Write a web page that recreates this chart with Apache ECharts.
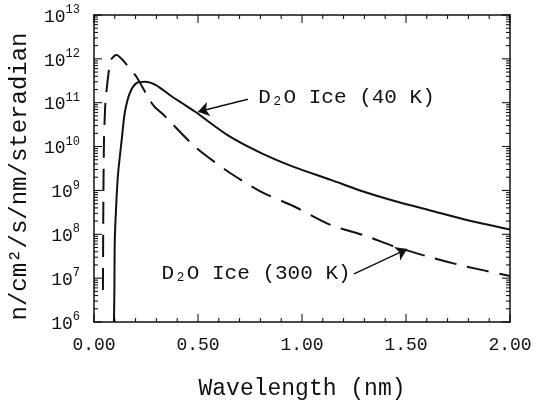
<!DOCTYPE html>
<html><head><meta charset="utf-8">
<script src="https://cdn.jsdelivr.net/npm/echarts@6/dist/echarts.min.js"></script>
<style>html,body{margin:0;padding:0;background:#fff}#c{width:537px;height:406px}</style>
</head><body><div id="c"></div>
<script>
// D2O ice, 40 K (solid)
const wl40   = [0.096, 0.098, 0.100, 0.108, 0.116, 0.133, 0.148, 0.172, 0.204, 0.244, 0.300, 0.364, 0.420, 0.485, 0.644, 0.804, 0.963, 1.139, 1.298, 1.458, 1.617, 1.777, 2.000];
const flux40 = [1.0e6, 5.4e6, 7.4e7, 6.0e8, 2.5e9, 1.4e10, 5.9e10, 1.66e11, 2.8e11, 3.0e11, 2.5e11, 1.5e11, 1.0e11, 6.3e10, 1.8e10, 7.1e9, 3.4e9, 1.74e9, 9.3e8, 5.5e8, 3.5e8, 2.2e8, 1.29e8];
// D2O ice, 300 K (dashed)
const wl300   = [0.043, 0.045, 0.048, 0.053, 0.057, 0.073, 0.080, 0.100, 0.109, 0.139, 0.172, 0.204, 0.268, 0.292, 0.325, 0.364, 0.485, 0.644, 0.804, 0.963, 1.139, 1.298, 1.458, 1.617, 1.777, 2.000];
const flux300 = [5.4e6, 6.0e8, 1.4e10, 6.8e10, 1.35e11, 6.2e11, 9.3e11, 1.2e12, 1.23e12, 9.3e11, 6.0e11, 3.9e11, 1.15e11, 8.0e10, 5.8e10, 3.8e10, 1.0e10, 2.7e9, 9.3e8, 4.3e8, 1.62e8, 9.5e7, 5.0e7, 3.0e7, 1.9e7, 1.12e7];
// axes
const xMin = 0, xMax = 2, xStep = 0.5;
const yMin = 1e6, yMax = 1e13;
const xMajorTicks = [0, 0.5, 1.0, 1.5, 2.0];
const xMinorTicks = [0.1, 0.2, 0.3, 0.4, 0.6, 0.7, 0.8, 0.9, 1.1, 1.2, 1.3, 1.4, 1.6, 1.7, 1.8, 1.9];
const yMajorTicks = [1e6, 1e7, 1e8, 1e9, 1e10, 1e11, 1e12, 1e13];
const yMinorMantissas = [2, 3, 4, 5, 6, 7, 8, 9];
// annotations
const label40 = 'D₂O Ice (40 K)';
const label300 = 'D₂O Ice (300 K)';
const arrow40 = [[0.74, 1.2e11], [0.50, 6.2e10]];
const text40 = [0.79, 1.35e11];
const arrow300 = [[1.25, 1.25e7], [1.505, 4.6e7]];
const text300 = [0.325, 1.3e7];

const FONT = 'Liberation Mono';
const black = '#111';
const MAJOR_LEN = 8, MINOR_LEN = 4;
const chart = echarts.init(document.getElementById('c'));

function pairs(xs, ys) { return xs.map((x, i) => [x, ys[i]]); }

// tick items: [x, y, side(0 bottom,1 top,2 left,3 right), length]
const tickItems = [];
xMajorTicks.forEach(v => { tickItems.push([v, yMin, 0, MAJOR_LEN], [v, yMax, 1, MAJOR_LEN]); });
xMinorTicks.forEach(v => { tickItems.push([v, yMin, 0, MINOR_LEN], [v, yMax, 1, MINOR_LEN]); });
yMajorTicks.forEach(v => { tickItems.push([xMin, v, 2, MAJOR_LEN], [xMax, v, 3, MAJOR_LEN]); });
yMajorTicks.slice(0, -1).forEach(d => yMinorMantissas.forEach(m => {
  tickItems.push([xMin, m * d, 2, MINOR_LEN], [xMax, m * d, 3, MINOR_LEN]);
}));

function renderTick(params, api) {
  const p = api.coord([api.value(0), api.value(1)]);
  const side = api.value(2), len = api.value(3);
  let x2 = p[0], y2 = p[1];
  if (side === 0) y2 -= len; else if (side === 1) y2 += len; else if (side === 2) x2 += len; else x2 -= len;
  return {type: 'line', shape: {x1: p[0], y1: p[1], x2: x2, y2: y2}, style: {stroke: '#000', lineWidth: 1}};
}

const axisLineStyle = {show: true, onZero: false, lineStyle: {color: black, width: 1.5}};

chart.setOption({
  backgroundColor: '#fff',
  animation: false,
  grid: {left: 92, right: 27, top: 15, bottom: 84},
  xAxis: [
    {
      type: 'value', min: xMin, max: xMax, interval: xStep, position: 'bottom',
      name: 'Wavelength (nm)', nameLocation: 'middle', nameGap: 55,
      nameTextStyle: {fontFamily: FONT, fontSize: 23, color: black},
      axisLine: axisLineStyle, axisTick: {show: false}, splitLine: {show: false},
      axisLabel: {margin: 14, fontFamily: FONT, fontSize: 18, color: black, formatter: v => v.toFixed(2)}
    },
    {
      type: 'value', min: xMin, max: xMax, interval: xStep, position: 'top',
      axisLine: axisLineStyle, axisTick: {show: false}, splitLine: {show: false}, axisLabel: {show: false}
    }
  ],
  yAxis: [
    {
      type: 'log', logBase: 10, min: yMin, max: yMax, interval: 1, position: 'left',
      name: 'n/cm²/s/nm/steradian', nameLocation: 'middle', nameGap: 62, nameRotate: 90,
      nameTextStyle: {fontFamily: FONT, fontSize: 24, color: black, padding: [0, 16, 0, 0]},
      axisLine: axisLineStyle, axisTick: {show: false}, splitLine: {show: false},
      axisLabel: {
        margin: 14, color: black,
        formatter: v => '{b|10}{e|' + Math.round(Math.log10(v)) + '}',
        rich: {
          b: {fontFamily: FONT, fontSize: 18, color: black, verticalAlign: 'bottom', lineHeight: 22},
          e: {fontFamily: FONT, fontSize: 12, color: black, verticalAlign: 'top', lineHeight: 22}
        }
      }
    },
    {
      type: 'log', logBase: 10, min: yMin, max: yMax, interval: 1, position: 'right',
      axisLine: axisLineStyle, axisTick: {show: false}, splitLine: {show: false}, axisLabel: {show: false}
    }
  ],
  series: [
    {
      name: 'ticks', type: 'custom', data: tickItems, renderItem: renderTick,
      xAxisIndex: 0, yAxisIndex: 0, encode: {x: 0, y: 1}, silent: true, z: 10, clip: false
    },
    {
      name: '40 K', type: 'line', data: pairs(wl40, flux40),
      xAxisIndex: 0, yAxisIndex: 0,
      showSymbol: false, smooth: 0.25,
      lineStyle: {color: black, width: 2},
      markLine: {
        silent: true, symbol: ['none', 'arrow'], symbolSize: 11,
        label: {show: false},
        lineStyle: {color: black, width: 1.5, type: 'solid'},
        data: [
          [{coord: arrow40[0]}, {coord: arrow40[1]}],
          [{coord: arrow300[0]}, {coord: arrow300[1]}]
        ]
      },
      markPoint: {
        silent: true, symbol: 'circle', symbolSize: 0,
        label: {show: true, position: 'right', distance: 0, fontFamily: FONT, fontSize: 21, color: black},
        data: [
          {coord: text40, label: {formatter: label40}},
          {coord: text300, label: {formatter: label300}}
        ]
      }
    },
    {
      name: '300 K', type: 'line', data: pairs(wl300, flux300),
      xAxisIndex: 0, yAxisIndex: 0,
      showSymbol: false, smooth: 0.25,
      lineStyle: {color: black, width: 2, type: [22, 11]}
    }
  ]
});
</script></body></html>
